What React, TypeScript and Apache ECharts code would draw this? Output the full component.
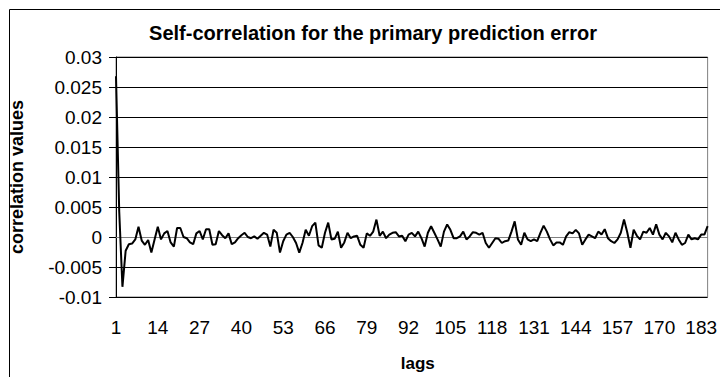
import React, { useEffect, useRef } from "react";
import * as echarts from "echarts";

const lags: string[] = Array.from({ length: 185 }, (_, i) => String(i + 1));

const values1: number[] = [
  0.0268, 0.0043, -0.0083, -0.0023, -0.0012, -0.0011, -0.0004, 0.0017, -0.0006, -0.0013,
  -0.0005, -0.0026, -0.0004, 0.0017, -0.0004, 0.0006, 0.001, -0.0009, -0.0016, 0.0015,
  0.0015, 0.0, -0.0002, -0.0009, -0.0012, 0.0006, 0.001, -0.0004, 0.0013, 0.0013,
  -0.0013, -0.0012, 0.001, 0.0003, -0.0002, 0.0006, -0.0012, -0.0009, -0.0002, 0.0003,
  0.0007, 0.0, -0.0002, 0.0001,
];
const values2: number[] = [
  -0.0003, 0.0002, 0.0007, 0.0004, -0.0016, 0.0012, 0.0007, -0.0026, -0.0007, 0.0004,
  0.0007, 0.0, -0.001, -0.0026, -0.001, 0.0012, 0.0002, 0.0018, 0.0024, -0.0014,
  -0.0018, 0.0007, 0.0024, -0.0004, -0.0003, 0.0009, -0.0018, -0.0009, 0.0007, -0.0002,
  0.0001, 0.0002, -0.0013, -0.0018, 0.0006,
];
const values3: number[] = [
  0.0002, 0.0009, 0.0029, 0.0002, 0.0009, -0.0002, 0.0004, 0.0007, 0.0008, 0.0001,
  0.0002, -0.0007, 0.0004, 0.0007, 0.0001, 0.0009, -0.0002, -0.0016, 0.0007, 0.0018,
  0.0007, -0.0004, -0.0016, 0.0009, 0.0021, 0.0012, -0.0002, -0.0002, 0.0001, 0.0009,
  -0.0004, 0.0001, 0.0008, 0.0007, 0.0004,
];
const values4: number[] = [
  0.0007, -0.001, -0.0018, -0.001, -0.0002, -0.0003, -0.001, -0.0007, -0.0006, 0.0009,
  0.0026, -0.0004, -0.0013, 0.0007, -0.0004, -0.0007, -0.0004, -0.0007, 0.0007, 0.0019,
  0.0009, -0.0004, -0.0014, -0.0009, -0.0009, -0.0013, 0.0001, 0.0008, 0.0006, 0.0012,
  0.0006, -0.0013, -0.0004,
];
const values5: number[] = [
  0.0004, 0.0001, -0.0002, 0.0009, 0.0004, 0.0013, -0.0002, -0.0007, -0.001, -0.0004,
  0.0007, 0.0029, 0.0008, -0.0018, 0.0012, 0.0002, -0.0004, 0.0009, 0.0007, 0.0015,
  0.0004, 0.0021, 0.0004, -0.0004, 0.0007, 0.0001, -0.0009, 0.0007, -0.0004, -0.0013,
  -0.001, 0.0004, -0.0004, -0.0002, -0.0004, 0.0004, 0.0004, 0.0018,
];
const correlation: number[] = [...values1, ...values2, ...values3, ...values4, ...values5];

const yMin = -0.01;
const yMax = 0.03;
const yStep = 0.005;

export default function App() {
  const ref = useRef<HTMLDivElement>(null);
  useEffect(() => {
    if (!ref.current) return;
    const chart = echarts.init(ref.current, null, { renderer: "svg" });
    const font = "'Liberation Sans', Arial, sans-serif";
    chart.setOption({
      animation: false,
      backgroundColor: "#ffffff",
      textStyle: { fontFamily: font },
      title: {
        text: "Self-correlation for the primary prediction error",
        left: 368,
        top: 18,
        textAlign: "center",
        textStyle: { fontSize: 20, fontWeight: "bold", color: "#000", fontFamily: font },
      },
      graphic: [
        {
          type: "rect",
          shape: { x: 9.5, y: 9.5, width: 740, height: 400 },
          style: { fill: "none", stroke: "#000", lineWidth: 1 },
          silent: true,
        },
      ],
      grid: {
        left: 113,
        right: 4,
        top: 57,
        bottom: 78,
        show: true,
        borderColor: "#808080",
        borderWidth: 1,
      },
      xAxis: {
        type: "category",
        data: lags,
        boundaryGap: false,
        name: "lags",
        nameLocation: "middle",
        nameGap: 58,
        nameTextStyle: {
          fontSize: 17,
          fontWeight: "bold",
          color: "#000",
          fontFamily: font,
          padding: [0, 0, 0, 12],
        },
        axisLine: { show: true, lineStyle: { color: "#808080", width: 1 } },
        axisTick: { show: false },
        axisLabel: {
          interval: 12,
          fontSize: 19,
          color: "#000",
          margin: 21,
          fontFamily: font,
          alignMaxLabel: "center",
          alignMinLabel: "center",
        },
        splitLine: { show: false },
      },
      yAxis: {
        type: "value",
        min: yMin,
        max: yMax,
        interval: yStep,
        name: "correlation values",
        nameLocation: "middle",
        nameRotate: 90,
        nameGap: 90,
        nameTextStyle: { fontSize: 18, fontWeight: "bold", color: "#000", fontFamily: font },
        axisLine: { show: true, lineStyle: { color: "#000", width: 1 } },
        axisTick: { show: true, inside: false, length: 7, lineStyle: { color: "#000" } },
        axisLabel: {
          fontSize: 19,
          color: "#000",
          margin: 14,
          fontFamily: font,
          formatter: (v: number) => String(Number(v.toFixed(3))),
        },
        splitLine: { show: true, lineStyle: { color: "#000", width: 1 } },
      },
      series: [
        {
          type: "line",
          data: correlation,
          showSymbol: false,
          symbol: "none",
          lineStyle: { color: "#000", width: 2 },
        },
      ],
    });
    return () => chart.dispose();
  }, []);
  return (
    <div
      ref={ref}
      style={{ position: "fixed", left: 0, top: 0, width: 720, height: 377 }}
    />
  );
}
